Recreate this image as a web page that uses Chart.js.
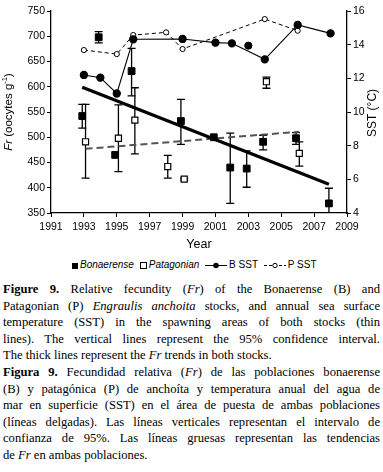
<!DOCTYPE html>
<html>
<head>
<meta charset="utf-8">
<script src="https://cdn.jsdelivr.net/npm/chart.js@4.4.0/dist/chart.umd.min.js"></script>
<style>
body { margin: 0; background: #fff; width: 383px; height: 472px; overflow: hidden; }
#wrap { position: absolute; left: 0; top: 0; width: 383px; height: 252px; }
#legend { position: absolute; top: 259px; left: 72px; width: 250px; white-space: nowrap;
  font: 10px 'Liberation Sans', Arial, sans-serif; color: #000; }
#legend span.it { margin-right: 3px; }
#legend svg { vertical-align: -1px; margin-right: 2px; }
#caption { position: absolute; top: 281px; left: 3px; width: 377px;
  font-family: 'Liberation Serif', 'Times New Roman', serif; font-size: 12.6px; line-height: 16.6px; color: #000; }
.ln { text-align: justify; text-align-last: justify; }
.last { text-align: left; text-align-last: left; }
</style>
</head>
<body>
<div id="wrap"><canvas id="frChart"></canvas></div>
<div id="legend">
  <span class="it"><svg width="6" height="6"><rect x="0" y="0" width="6" height="6" fill="#000"/></svg><i>Bonaerense</i></span>
  <span class="it"><svg width="7" height="7"><rect x="0.5" y="0.5" width="6" height="6" fill="#fff" stroke="#000"/></svg><i>Patagonian</i></span>
  <span class="it"><svg width="22" height="7"><line x1="0" y1="3.5" x2="22" y2="3.5" stroke="#000"/><circle cx="11" cy="3.5" r="2.8" fill="#000"/></svg>B SST</span>
  <span class="it"><svg width="22" height="7"><line x1="0" y1="3.5" x2="22" y2="3.5" stroke="#000" stroke-dasharray="3,2"/><circle cx="11" cy="3.5" r="2.2" fill="#fff" stroke="#000"/></svg>P SST</span>
</div>
<div id="caption">
  <div class="ln"><b>Figure 9.</b> Relative fecundity (<i>Fr</i>) of the Bonaerense (B) and</div>
  <div class="ln">Patagonian (P) <i>Engraulis anchoita</i> stocks, and annual sea surface</div>
  <div class="ln">temperature (SST) in the spawning areas of both stocks (thin</div>
  <div class="ln">lines). The vertical lines represent the 95% confidence interval.</div>
  <div class="ln last">The thick lines represent the <i>Fr</i> trends in both stocks.</div>
  <div class="ln"><b>Figura 9.</b> Fecundidad relativa (<i>Fr</i>) de las poblaciones bonaerense</div>
  <div class="ln">(B) y patagónica (P) de anchoíta y temperatura anual del agua de</div>
  <div class="ln">mar en superficie (SST) en el área de puesta de ambas poblaciones</div>
  <div class="ln">(líneas delgadas). Las líneas verticales representan el intervalo de</div>
  <div class="ln">confianza de 95%. Las líneas gruesas representan las tendencias</div>
  <div class="ln last">de <i>Fr</i> en ambas poblaciones.</div>
</div>
<script>
// Bonaerense relative fecundity + 95% CI
const yearsB = [1993, 1994, 1995, 1996, 1999, 2001, 2002, 2003, 2004, 2006, 2008];
const frB = [542, 698, 465, 631, 532, 500, 440, 438, 491, 498, 369];
const frBLow = [518, 687, null, 582, 486, null, 369, 401, 475, 486, 340];
const frBHigh = [565, 709, null, 676, 575, null, 508, 473, 504, 509, 399];

// Patagonian relative fecundity + 95% CI
const yearsP = [1993, 1995, 1996, 1998, 1999, 2004, 2006];
const frP = [491, 498, 534, 442, 417, 610, 468];
const frPLow = [419, 432, 467, 419, 415, 597, 443];
const frPHigh = [565, 564, 598, 464, 419, 619, 491];

// sea surface temperature
const yearsBSst = [1993, 1994, 1995, 1996, 1999, 2001, 2002, 2004, 2006, 2008];
const bSst = [12.2, 12.04, 11.1, 14.32, 14.34, 14.12, 14.08, 13.13, 15.17, 14.67];
const yearsBSstLoose = [2003];
const bSstLoose = [13.94];
const yearsPSst = [1993, 1995, 1996, 1998, 1999, 2004, 2006];
const pSst = [13.68, 13.44, 14.57, 14.73, 13.74, 15.52, 14.83];

// trend lines (end points)
const trendYearsB = [1993, 2008];
const trendB = [599, 407];
const trendYearsP = [1993, 2006];
const trendP = [477, 511];

const yearTicks = [1991, 1993, 1995, 1997, 1999, 2001, 2003, 2005, 2007, 2009];

const tickFont = { family: "'Liberation Sans', Arial, sans-serif", size: 10.5 };

function pts(xs, ys, shift) {
    return xs.map((x, i) => ({ x: x + (shift || 0), y: ys[i] }));
}

const errorBars = {
    id: 'errorBars',
    beforeDatasetsDraw(chart) {
        const ctx = chart.ctx;
        const a = chart.chartArea;
        const ys = chart.scales.y;
        ctx.save();
        ctx.beginPath();
        ctx.rect(a.left, a.top, a.right - a.left, a.bottom - a.top);
        ctx.clip();
        ctx.strokeStyle = '#000';
        ctx.lineWidth = 1.3;
        chart.data.datasets.forEach((ds, i) => {
            if (!ds.errLow) return;
            const meta = chart.getDatasetMeta(i);
            meta.data.forEach((p, j) => {
                if (ds.errLow[j] == null) return;
                const y1 = ys.getPixelForValue(ds.errLow[j]);
                const y2 = ys.getPixelForValue(ds.errHigh[j]);
                ctx.beginPath();
                ctx.moveTo(p.x, y1); ctx.lineTo(p.x, y2);
                ctx.moveTo(p.x - 4, y1); ctx.lineTo(p.x + 4, y1);
                ctx.moveTo(p.x - 4, y2); ctx.lineTo(p.x + 4, y2);
                ctx.stroke();
            });
        });
        ctx.restore();
    }
};

const axisTitles = {
    id: 'axisTitles',
    afterDraw(chart) {
        const ctx = chart.ctx;
        const fam = tickFont.family;
        ctx.save();
        ctx.fillStyle = '#000';
        ctx.textBaseline = 'middle';
        // left: Fr (oocytes g-1)
        ctx.translate(9, 112);
        ctx.rotate(-Math.PI / 2);
        const parts = [
            { t: 'Fr', f: 'italic 11.5px ' + fam, dy: 0 },
            { t: ' (oocytes g', f: '11.5px ' + fam, dy: 0 },
            { t: '-1', f: '7.5px ' + fam, dy: -4 },
            { t: ')', f: '11.5px ' + fam, dy: 0 }
        ];
        let w = 0;
        parts.forEach(p => { ctx.font = p.f; w += ctx.measureText(p.t).width; });
        let x = -w / 2;
        parts.forEach(p => {
            ctx.font = p.f;
            ctx.fillText(p.t, x, p.dy);
            x += ctx.measureText(p.t).width;
        });
        ctx.restore();
        // right: SST (°C)
        ctx.save();
        ctx.fillStyle = '#000';
        ctx.textBaseline = 'middle';
        ctx.textAlign = 'center';
        ctx.translate(373, 113);
        ctx.rotate(-Math.PI / 2);
        ctx.font = '12px ' + fam;
        ctx.fillText('SST (°C)', 0, 0);
        ctx.restore();
    }
};

new Chart(document.getElementById('frChart'), {
    type: 'scatter',
    data: {
        datasets: [
            {
                label: 'Bonaerense',
                data: pts(yearsB, frB, -0.1),
                errLow: frBLow, errHigh: frBHigh,
                pointStyle: 'rect', pointRadius: 4.8,
                backgroundColor: '#000', borderColor: '#000', borderWidth: 1,
                yAxisID: 'y'
            },
            {
                label: 'Patagonian',
                data: pts(yearsP, frP, 0.1),
                errLow: frPLow, errHigh: frPHigh,
                pointStyle: 'rect', pointRadius: 4.3,
                backgroundColor: '#fff', borderColor: '#000', borderWidth: 1.2,
                yAxisID: 'y'
            },
            {
                label: 'B SST',
                data: pts(yearsBSst, bSst),
                showLine: true, borderColor: '#000', borderWidth: 1.1,
                pointRadius: 3.6, pointBackgroundColor: '#000', pointBorderColor: '#000',
                yAxisID: 'y1'
            },
            {
                label: 'B SST 2003',
                data: pts(yearsBSstLoose, bSstLoose),
                pointRadius: 3.6, backgroundColor: '#000', borderColor: '#000',
                yAxisID: 'y1'
            },
            {
                label: 'P SST',
                data: pts(yearsPSst, pSst),
                showLine: true, borderColor: '#000', borderWidth: 1, borderDash: [4, 3],
                pointRadius: 2.6, pointBackgroundColor: '#fff', pointBorderColor: '#000', pointBorderWidth: 1,
                yAxisID: 'y1'
            },
            {
                label: 'B trend',
                data: pts(trendYearsB, trendB, -0.1),
                showLine: true, borderColor: '#000', borderWidth: 3.2, pointRadius: 0,
                yAxisID: 'y'
            },
            {
                label: 'P trend',
                data: pts(trendYearsP, trendP, 0.1),
                showLine: true, borderColor: '#555', borderWidth: 2, borderDash: [7, 4], pointRadius: 0,
                yAxisID: 'y'
            }
        ]
    },
    options: {
        responsive: true,
        maintainAspectRatio: false,
        animation: false,
        layout: { padding: { top: 11, left: 0, right: 0, bottom: 0 } },
        plugins: {
            legend: { display: false },
            tooltip: { enabled: false }
        },
        scales: {
            x: {
                type: 'linear', min: 1991, max: 2009,
                afterBuildTicks: s => { s.ticks = yearTicks.map(v => ({ value: v })); },
                afterFit: s => { s.height = 39; },
                grid: { drawOnChartArea: false, drawTicks: true, tickLength: 4, color: '#000' },
                border: { color: '#000', width: 1.3 },
                ticks: { color: '#000', font: tickFont, padding: 4, maxRotation: 0, callback: v => String(v) },
                title: { display: true, text: 'Year', color: '#000', font: { family: tickFont.family, size: 12.5 }, padding: { top: 0, bottom: 0 } }
            },
            y: {
                position: 'left', min: 350, max: 750,
                afterFit: s => { s.width = 51; },
                grid: { drawOnChartArea: false, drawTicks: true, tickLength: 4, color: '#000' },
                border: { color: '#000', width: 1.3 },
                ticks: { stepSize: 50, color: '#000', font: tickFont, padding: 2 }
            },
            y1: {
                position: 'right', min: 4, max: 16,
                afterFit: s => { s.width = 36; },
                grid: { drawOnChartArea: false, drawTicks: true, tickLength: 4, color: '#000' },
                border: { color: '#000', width: 1.3 },
                ticks: { stepSize: 2, color: '#000', font: tickFont, padding: 2 }
            }
        }
    },
    plugins: [errorBars, axisTitles]
});
</script>
</body>
</html>
